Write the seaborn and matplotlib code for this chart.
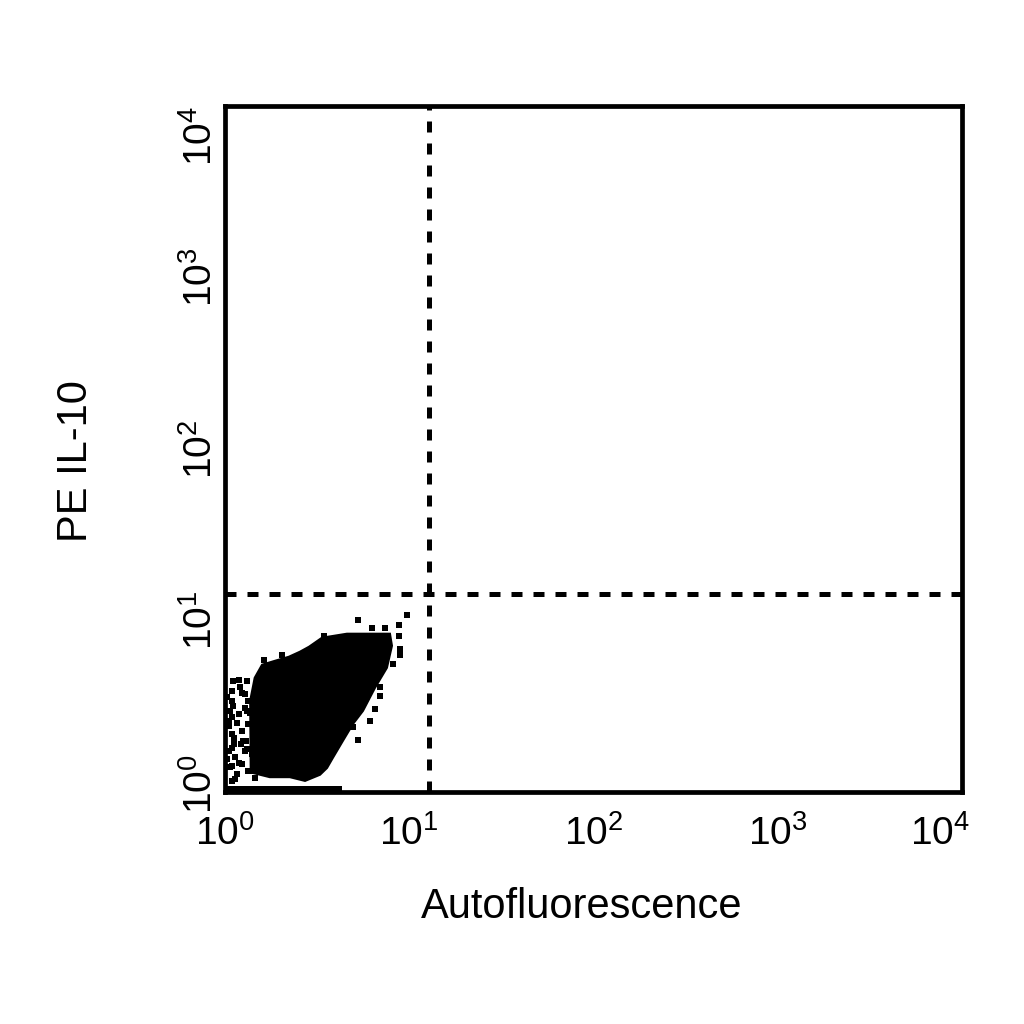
import matplotlib
matplotlib.use('Agg')
import matplotlib.pyplot as plt
import matplotlib.transforms as mtransforms
import seaborn as sns
import pandas as pd

# gate positions (quadrant lines)
gate_x = 12.8
gate_y = 14.3

# outline of the dense cell population (Autofluorescence, PE IL-10)
body_x = [1.38, 1.37, 1.45, 1.59, 1.87, 2.22, 2.55, 2.86, 3.36, 4.59, 7.86,
          8.06, 7.57, 6.52, 5.61, 4.95, 4.37, 3.85, 3.58, 3.28, 2.72, 2.25, 1.75]
body_y = [1.30, 3.40, 4.63, 5.52, 5.82, 6.14, 6.57, 7.03, 7.93, 8.37, 8.37,
          7.12, 5.30, 4.05, 2.97, 2.49, 1.99, 1.58, 1.38, 1.26, 1.16, 1.22, 1.22]

# single events around the population
dot_x = [9.72, 5.27, 8.80, 6.28, 7.39, 8.80, 8.91, 8.91, 8.16, 6.94, 6.94, 6.52,
         6.12, 4.95, 5.27, 3.45, 2.05, 1.62,
         1.11, 1.32, 1.09, 1.09, 1.24, 1.34, 1.07, 1.19, 1.32, 1.16, 1.34, 1.09,
         1.24, 1.09, 1.26, 1.29, 1.14, 1.40, 1.07, 1.24, 1.16, 1.34, 1.09, 1.46,
         1.03, 1.20, 1.05, 1.28, 1.12, 1.03, 1.22,
         1.19, 1.09, 1.10, 1.28, 1.16, 1.37, 1.12, 1.30, 1.19, 1.09, 1.38, 1.13,
         1.32, 1.05, 1.05]
dot_y = [10.8, 10.1, 9.44, 9.07, 9.07, 8.15, 6.84, 6.31, 5.59, 4.10, 3.64, 3.05,
         2.60, 2.40, 2.01, 8.10, 6.30, 5.90,
         4.45, 4.45, 3.89, 3.40, 3.79, 3.40, 2.97, 2.86, 2.97, 2.54, 2.49, 2.18,
         2.27, 1.81, 1.99, 1.73, 1.59, 1.67, 1.39, 1.46, 1.27, 1.33, 1.16, 1.21,
         3.60, 4.10, 2.60, 3.10, 2.05, 1.55, 1.90,
         4.51, 2.74, 3.18, 3.73, 2.53, 2.89, 1.91, 1.99, 1.48, 1.42, 1.33, 1.19,
         1.78, 2.43, 1.73]

# events piled up on the lower axis
pile_x = [1.0, 4.3]
pile_top = 1.09

ticks = [1, 10, 100, 1000, 10000]
tick_labels = ['$10^0$', '$10^1$', '$10^2$', '$10^3$', '$10^4$']

sns.set_style('white')
plt.rcParams['font.family'] = ['Liberation Sans', 'DejaVu Sans']
plt.rcParams['mathtext.default'] = 'regular'
plt.rcParams['text.color'] = 'black'
plt.rcParams['xtick.color'] = 'black'
plt.rcParams['ytick.color'] = 'black'
plt.rcParams['axes.labelcolor'] = 'black'

fig = plt.figure(figsize=(10.24, 10.24), dpi=100)
ax = fig.add_axes([0.2197, 0.2266, 0.7197, 0.6699])
ax.set_xscale('log')
ax.set_yscale('log')

ax.fill(body_x, body_y, color='black', lw=1.5)
ax.fill_between(pile_x, 1.0, pile_top, color='black', lw=0)
dots = pd.DataFrame({'x': dot_x, 'y': dot_y})
sns.scatterplot(data=dots, x='x', y='y', ax=ax, color='black', marker='s',
                s=17, linewidth=0)

ax.axvline(gate_x, color='black', lw=3.6, dashes=(2.2, 2.2))
ax.axhline(gate_y, color='black', lw=3.6, dashes=(2.2, 2.2))

ax.set_xlim(1, 10000)
ax.set_ylim(1, 10000)
ax.set_xticks(ticks)
ax.set_yticks(ticks)
ax.set_xticklabels(tick_labels, fontsize=28)
ax.set_yticklabels(tick_labels, fontsize=28, rotation=90, va='center')
ax.minorticks_off()
ax.tick_params(length=0)
ax.tick_params(axis='x', pad=17)
ax.tick_params(axis='y', pad=4)

# nudge the end labels so they sit like the original
yl = ax.get_yticklabels()
yl[-1].set_va('top')
yl[0].set_transform(yl[0].get_transform() +
                    mtransforms.ScaledTranslation(0, 8 / 100, fig.dpi_scale_trans))
xl = ax.get_xticklabels()
xl[-1].set_ha('right')
xl[-1].set_transform(xl[-1].get_transform() +
                     mtransforms.ScaledTranslation(8 / 100, 0, fig.dpi_scale_trans))

for sp in ax.spines.values():
    sp.set_linewidth(3.4)
    sp.set_color('black')

ax.set_xlabel('Autofluorescence', fontsize=30)
ax.set_ylabel('PE IL-10', fontsize=30)
ax.xaxis.set_label_coords(0.484, -0.138)
ax.yaxis.set_label_coords(-0.175, 0.483)

fig.savefig('out.png', dpi=100)
